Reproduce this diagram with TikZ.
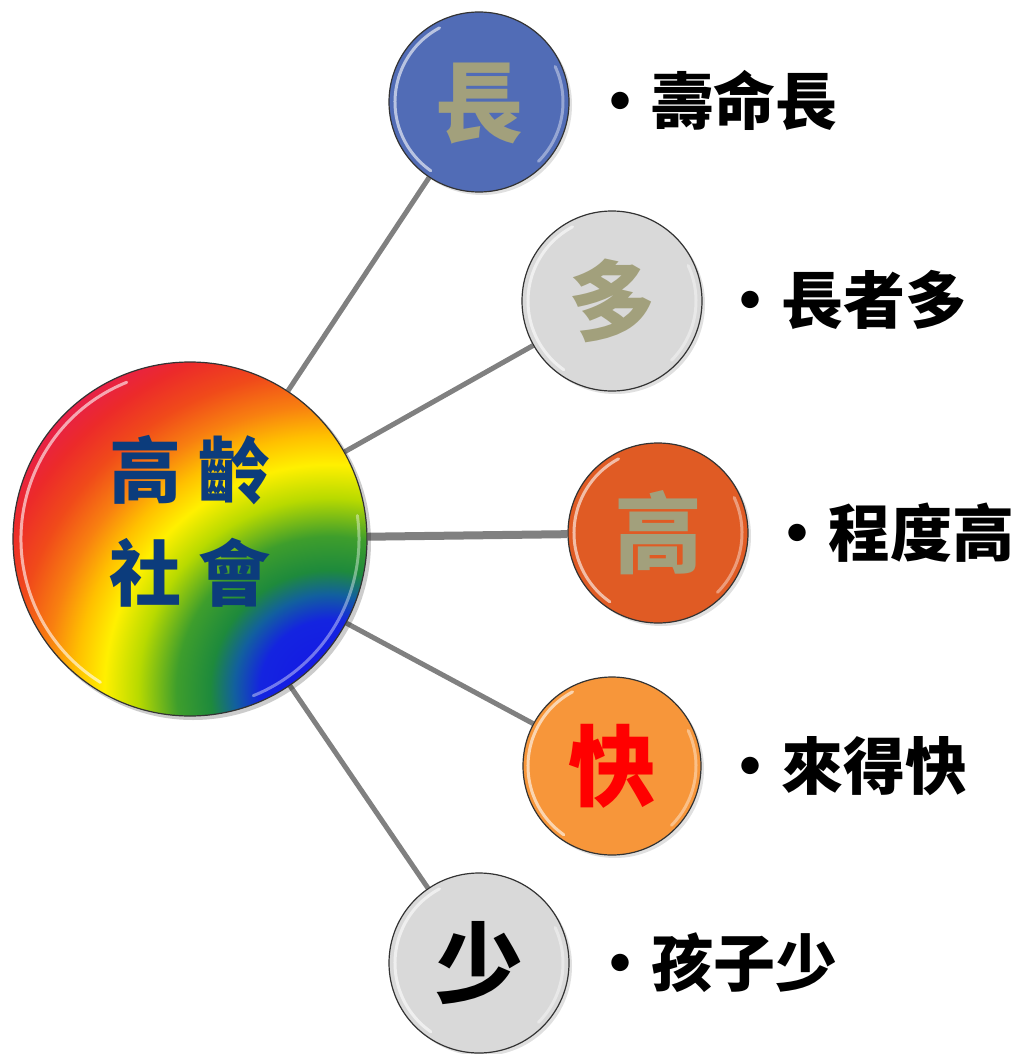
\documentclass[tikz,border=0pt]{standalone}
\usepackage{fontspec}
\newfontfamily\cjk{Noto Sans CJK TC}
\usetikzlibrary{shadows,backgrounds}
\definecolor{rb0}{HTML}{1414E6}
\definecolor{rb1}{HTML}{1424E0}
\definecolor{rb2}{HTML}{12609E}
\definecolor{rb3}{HTML}{1E8A3C}
\definecolor{rb4}{HTML}{3E9E2C}
\definecolor{rb5}{HTML}{B8DA00}
\definecolor{rb6}{HTML}{FFF000}
\definecolor{rb7}{HTML}{FFC000}
\definecolor{rb8}{HTML}{F88010}
\definecolor{rb9}{HTML}{F04A1A}
\definecolor{rb10}{HTML}{EC2A2A}
\definecolor{rb11}{HTML}{E61E50}
\definecolor{linkgray}{HTML}{808080}
\definecolor{olivetxt}{HTML}{A2A07C}
\definecolor{navytxt}{HTML}{0C3C7C}
\definecolor{satblue}{HTML}{516CB6}
\definecolor{satgray}{HTML}{D9D9D9}
\definecolor{satred}{HTML}{E05B24}
\definecolor{satorange}{HTML}{F7963A}
\pgfdeclareradialshading{rainbowrad}{\pgfpoint{0bp}{0bp}}{color(0bp)=(rb0); color(4.4bp)=(rb1); color(6bp)=(rb2); color(7.5bp)=(rb3); color(9.6bp)=(rb4); color(12bp)=(rb5); color(14.1bp)=(rb6); color(15.9bp)=(rb7); color(17.8bp)=(rb8); color(20bp)=(rb9); color(22.2bp)=(rb10); color(24.4bp)=(rb11); color(25bp)=(rb11); color(50bp)=(rb11)}
\begin{document}
\begin{tikzpicture}[x=1pt,y=-1pt,
  link/.style={draw=linkgray, line width=5pt},
  sat/.style={circle, draw=black!80, line width=1.2pt, minimum size=180pt, inner sep=0pt,
    font=\cjk\bfseries\fontsize{88}{88}\selectfont, text height=77.4pt, text depth=10.6pt,
    drop shadow={shadow xshift=3pt, shadow yshift=-3pt, opacity=0.3, fill=black!40}},
  lab/.style={anchor=west, inner sep=0pt, font=\cjk\bfseries\fontsize{62}{62}\selectfont,
    text height=54.6pt, text depth=7.4pt},
  hl/.style={white, opacity=0.6, line width=3pt, line cap=round},
  hlr/.style={white, opacity=0.4, line width=3pt, line cap=round}]
\useasboundingbox (0,0) rectangle (1017,1054);

% central circle
\fill[black, opacity=0.2] (193,542) circle[radius=178pt];
\begin{scope}
  \clip (190,539) circle[radius=177pt];
  \shade[shading=rainbowrad] (330,690) circle[radius=400pt];
\end{scope}
\node[circle, minimum size=354pt, inner sep=0pt, draw=black!80, line width=1.2pt] (c) at (190,539) {};
\draw[hl] (c.center) ++(112:169pt) arc[start angle=112, end angle=238, radius=169pt];
\draw[hlr] (c.center) ++(-68:169pt) arc[start angle=-68, end angle=8, radius=169pt];
\node[inner sep=0pt, align=center, text=navytxt, font=\cjk\bfseries\fontsize{72}{103}\selectfont,
  text height=63.4pt, text depth=8.6pt] (t) at (190,573) {高\hspace{17pt}齡\\社\hspace{17pt}會};

% satellites
\node[sat, fill=satblue, text=olivetxt] (s1) at (479,102) {長};
\node[sat, fill=satgray, text=olivetxt] (s2) at (612,301) {多};
\node[sat, fill=satred, text=olivetxt] (s3) at (658,533) {高};
\node[sat, fill=satorange, text=red, minimum size=178pt] (s4) at (612,766) {快};
\node[sat, fill=satgray, text=black] (s5) at (479,963) {少};

\foreach \s in {s1,s2,s3,s4,s5}{
  \draw[hl] (\s.center) ++(118:84pt) arc[start angle=118, end angle=235, radius=84pt];
  \draw[hlr] (\s.center) ++(-45:84pt) arc[start angle=-45, end angle=25, radius=84pt];
}

% connectors
\begin{scope}[on background layer]
  \draw[link] (c) -- (s1);
  \draw[link] (c) -- (s2);
  \draw[link, line width=8pt] (c) -- (s3);
  \draw[link] (c) -- (s4);
  \draw[link] (c) -- (s5);
\end{scope}

% labels
\node[lab] (l1) at (589,101) {・壽命長};
\node[lab] (l2) at (719,300) {・長者多};
\node[lab] (l3) at (766,533) {・程度高};
\node[lab] (l4) at (719,766) {・來得快};
\node[lab] (l5) at (589,963) {・孩子少};
\end{tikzpicture}
\end{document}
